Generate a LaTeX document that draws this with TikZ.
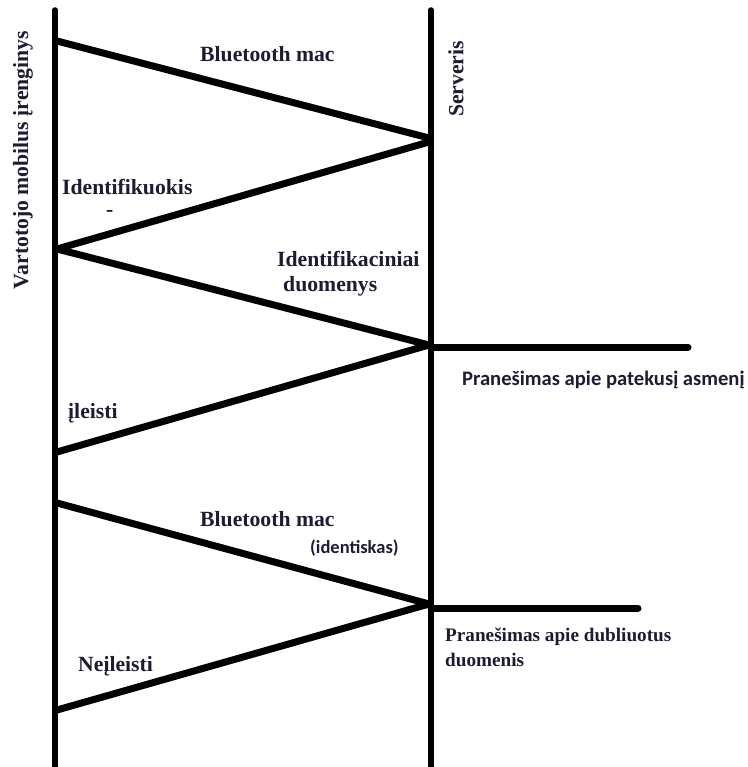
\documentclass[tikz,border=0pt]{standalone}
\usepackage{fontspec}
\setmainfont{Liberation Serif}
\newfontfamily\labelsans{Carlito}
\definecolor{ink}{HTML}{1C1C33}
\begin{document}
\begin{tikzpicture}[x=1pt,y=-1pt,
  lifeline/.style={line width=5.5pt,line cap=round},
  msg/.style={line width=7pt,line cap=round},
  note/.style={line width=7pt,line cap=round},
  lbl/.style={inner sep=0pt,anchor=base west,text=ink,font=\fontsize{21.7}{25}\selectfont\bfseries},
  sublbl/.style={inner sep=0pt,anchor=base west,text=ink,font=\labelsans\bfseries\fontsize{18.5}{22}\selectfont},
  sidelbl/.style={inner sep=0pt,text=ink,rotate=90,font=\fontsize{21.7}{25}\selectfont\bfseries}]
\useasboundingbox (0,0) rectangle (747,767);

% lifelines
\coordinate (cTop) at (55,10);
\coordinate (cBot) at (55,767);
\coordinate (sTop) at (431,10);
\coordinate (sBot) at (431,767);
\draw[lifeline] (cTop) -- (cBot);
\draw[lifeline] (sTop) -- (sBot);

% message end points
\coordinate (c1) at (57,41);
\coordinate (s1) at (429,138);
\coordinate (s2) at (429,142);
\coordinate (c2) at (57,249);
\coordinate (s3) at (429,345);
\coordinate (c3) at (57,452);
\coordinate (c4) at (57,503);
\coordinate (s4) at (429,604);
\coordinate (c5) at (57,710);
\coordinate (n1) at (688,347);
\coordinate (n2) at (638,608);
\coordinate (s3h) at (431,347);
\coordinate (s4h) at (431,608);

% messages
\draw[msg] (c1) -- (s1);
\draw[msg] (s2) -- (c2);
\draw[msg] (c2) -- (s3);
\draw[msg] (s3) -- (c3);
\draw[msg] (c4) -- (s4);
\draw[msg] (s4) -- (c5);
\draw[note] (s3h) -- (n1);
\draw[note] (s4h) -- (n2);

% labels
\node[sidelbl] (tClient) at (23,160) {Vartotojo mobilus įrenginys};
\node[sidelbl] (tServer) at (456,79) {Serveris};
\node[lbl] (t1) at (200,62) {Bluetooth mac};
\node[lbl] (t2) at (62,195) {Identifikuokis};
\node[lbl] (t2b) at (106,216) {-};
\node[lbl] (t3) at (277,266) {Identifikaciniai};
\node[lbl] (t3b) at (283,291) {duomenys};
\node[sublbl,font=\labelsans\bfseries\fontsize{20.6}{24}\selectfont] (t4) at (462,385) {Pranešimas apie patekusį asmenį};
\node[lbl] (t5) at (68,418) {įleisti};
\node[lbl] (t6) at (200,526) {Bluetooth mac};
\node[sublbl] (t6b) at (310,553) {(identiskas)};
\node[lbl,font=\fontsize{19.2}{23}\selectfont\bfseries] (t7) at (445,641) {Pranešimas apie dubliuotus};
\node[lbl,font=\fontsize{19.2}{23}\selectfont\bfseries] (t7b) at (445,666) {duomenis};
\node[lbl] (t8) at (78,671) {Neįleisti};
\end{tikzpicture}
\end{document}
